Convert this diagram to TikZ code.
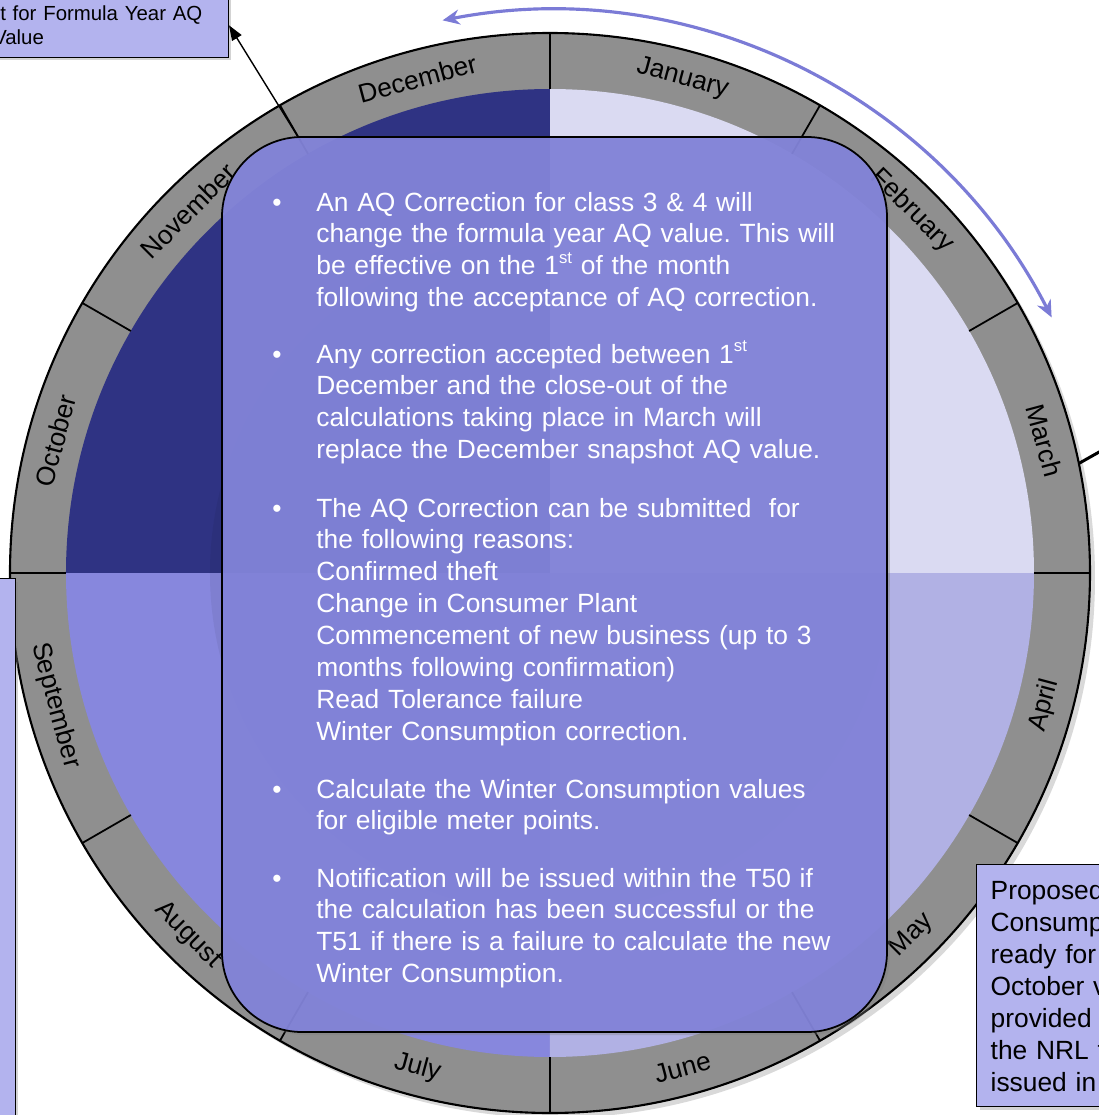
\documentclass[tikz,border=0pt]{standalone}
\usepackage{fontspec}
\setmainfont{Liberation Sans}
\usepackage{tikz}
\usetikzlibrary{arrows.meta, positioning, shadows}
\definecolor{RingGray}{HTML}{8F8F8F}
\definecolor{NavyQuarter}{HTML}{2F3383}
\definecolor{PaleQuarter}{HTML}{DADAF2}
\definecolor{MistQuarter}{HTML}{B1B1E4}
\definecolor{LilacQuarter}{HTML}{8787DD}
\definecolor{PanelBlue}{HTML}{8283DA}
\definecolor{CalloutBlue}{HTML}{B3B3EE}
\definecolor{CycleBlue}{HTML}{7B7BD6}
\newcommand{\ordsup}[1]{\raisebox{0.42em}{\fontsize{9.5}{10}\selectfont #1}}
\frenchspacing

\begin{document}
\begin{tikzpicture}[
    month/.style={font=\fontsize{15}{17}\selectfont, text=black, inner sep=0pt},
    para/.style={font=\fontsize{15}{18.2}\selectfont, text=white, text width=10.8cm,
                 align=left, inner sep=0pt, anchor=base west},
    dot/.style={font=\fontsize{15}{18.2}\selectfont, text=white, inner sep=0pt, anchor=base west},
    callout/.style={rectangle, fill=CalloutBlue, draw=black, line width=0.8pt,
                    drop shadow={opacity=0.35, shadow xshift=0.06cm, shadow yshift=-0.06cm}},
    sep/.style={black, line width=1pt}
]
    \useasboundingbox (-11,-10.84) rectangle (10.98,11.46);
    \clip (-11,-10.84) rectangle (10.98,11.46);

    % Month ring and quarters
    \fill[RingGray, drop shadow={opacity=0.3, shadow xshift=0.1cm, shadow yshift=-0.1cm}] (0,0) circle (10.8);
    \fill[PaleQuarter] (0,0) -- (0:9.68) arc (0:90:9.68) -- cycle;
    \fill[NavyQuarter] (0,0) -- (90:9.68) arc (90:180:9.68) -- cycle;
    \fill[LilacQuarter] (0,0) -- (180:9.68) arc (180:270:9.68) -- cycle;
    \fill[MistQuarter] (0,0) -- (270:9.68) arc (270:360:9.68) -- cycle;
    \fill[black, opacity=0.06] (0,0) circle (6.8);
    \draw[line width=1.2pt] (0,0) circle (10.8);
    \foreach \ang in {0,30,...,330} {
        \draw[sep] (\ang:9.68) -- (\ang:10.8);
    }

    % Month labels
    \foreach \m [count=\i] in {January,February,March,April,May,June,July,August,September,October,November,December} {
        \pgfmathsetmacro{\ang}{105-30*\i}
        \pgfmathsetmacro{\rot}{sin(\ang)>0 ? \ang-90 : \ang+90}
        \node[month, rotate=\rot] (m\i) at (\ang:10.24) {\m};
    }

    % Cycle arrow
    \draw[CycleBlue, line width=1.8pt, {Stealth[length=0.34cm,width=0.3cm]}-{Stealth[length=0.34cm,width=0.3cm]}]
        (27:11.26) arc[start angle=27, end angle=101, radius=11.26];

    % Callouts
    \node[callout, text width=4.54cm, inner xsep=0.16cm, inner ysep=0pt, minimum height=1.28cm,
          align=left, anchor=south east, font=\fontsize{11.6}{13.6}\selectfont]
        (snapbox) at (-6.42,10.30) {\hspace*{0.14cm}t for Formula Year AQ\\Value};
    \node[callout, text width=5cm, inner xsep=0.28cm, inner ysep=0pt, minimum height=4.84cm,
          align=left, anchor=north west, font=\fontsize{15}{18.2}\selectfont]
        (nrlbox) at (8.52,-5.82) {Proposed\\Consump\\ready for\\October v\\provided\\the NRL t\\issued in};
    \node[callout, anchor=north east, minimum width=1cm, minimum height=11cm, inner sep=0pt]
        (sidebox) at (-10.68,-0.10) {};
    \coordinate (marchbox) at (11.8,2.88);

    \draw[line width=1.7pt] (11.7:10.8) -- (marchbox);
    \draw[line width=0.8pt, -{Triangle[length=0.3cm,width=0.22cm]}] (120:9.95) -- (snapbox.east);

    % Info panel
    \node[rectangle, rounded corners=1.6cm, minimum width=13.3cm, minimum height=17.9cm,
          fill=PanelBlue, fill opacity=0.93, draw=black, line width=1pt,
          drop shadow={opacity=0.35, shadow xshift=0.06cm, shadow yshift=-0.06cm}]
        (info) at (0.09,-0.23) {};

    \foreach \y [count=\k] in {7.24,4.20,1.12,-4.50,-6.28} {
        \node[dot] (dot\k) at (-5.56,\y) {•};
    }
    \node[para] (p1) at (-4.68,7.24) {An AQ Correction for class 3 \& 4 will\\change the formula year AQ value. This will\\be effective on the 1\ordsup{st} of the month\\following the acceptance of AQ correction.};
    \node[para] (p2) at (-4.68,4.20) {Any correction accepted between 1\ordsup{st}\\December and the close-out of the\\calculations taking place in March will\\replace the December snapshot AQ value.};
    \node[para] (p3) at (-4.68,1.12) {The AQ Correction can be submitted~ for\\the following reasons:\\Confirmed theft\\Change in Consumer Plant\\Commencement of new business (up to 3\\months following confirmation)\\Read Tolerance failure\\Winter Consumption correction.};
    \node[para] (p4) at (-4.68,-4.50) {Calculate the Winter Consumption values\\for eligible meter points.};
    \node[para] (p5) at (-4.68,-6.28) {Notification will be issued within the T50 if\\the calculation has been successful or the\\T51 if there is a failure to calculate the new\\Winter Consumption.};
\end{tikzpicture}
\end{document}
